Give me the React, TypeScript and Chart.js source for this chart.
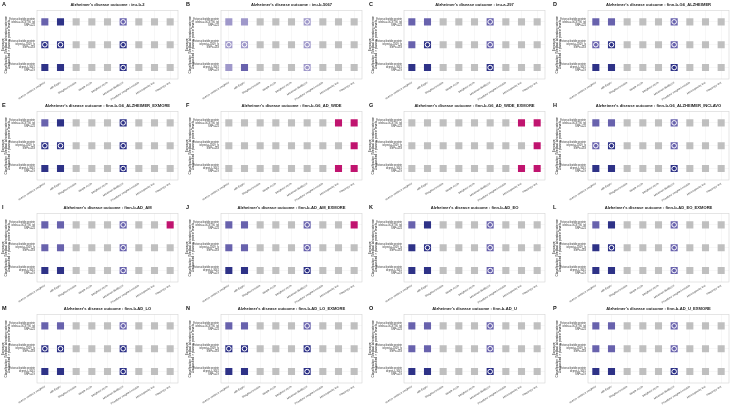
import React, { useEffect, useRef } from "react";
import { Chart, registerables } from "chart.js";
Chart.register(...registerables);

const methods = [
  "Inverse variance weighted",
  "MR Egger",
  "Weighted median",
  "Simple mode",
  "Weighted mode",
  "Maximum likelihood",
  "Penalised weighted median",
  "Heterogeneity test",
  "Pleiotropy test",
];

const exposureKeys = ["e1", "e2", "e3"];
const exposures = [
  ["Ectonucleotide protein", "id:ebi-a-GCST90_tpl", "SNPs=24"],
  ["Ectonucleotide protein", "id:prot-a-1009_lv", "SNPs=183"],
  ["Ectonucleotide protein", "id:prot-c-3041", "SNPs=19"],
];

const yTitle = [
  "Exposure",
  "Classification | Medical laboratory science",
  "Unclassified > plasma protein levels",
];

const letters = ["A", "B", "C", "D", "E", "F", "G", "H", "I", "J", "K", "L", "M", "N", "O", "P"];

const outcomes = [
  "ieu-b-2",
  "ieu-b-5067",
  "ieu-a-297",
  "finn-b-G6_ALZHEIMER",
  "finn-b-G6_ALZHEIMER_EXMORE",
  "finn-b-G6_AD_WIDE",
  "finn-b-G6_AD_WIDE_EXMORE",
  "finn-b-G6_ALZHEIMER_INCLAVO",
  "finn-b-AD_AM",
  "finn-b-AD_AM_EXMORE",
  "finn-b-AD_EO",
  "finn-b-AD_EO_EXMORE",
  "finn-b-AD_LO",
  "finn-b-AD_LO_EXMORE",
  "finn-b-AD_U",
  "finn-b-AD_U_EXMORE",
];

// codes: g grey, l light, m medium, d dark, p magenta; uppercase = ring marker
const cells = [
  ["mdgggMggg", "DDgggDggg", "ddgggDggg"],
  ["llgggLggg", "LLgggLggg", "lmgggLggg"],
  ["mmgggMggg", "mDgggMggg", "ddgggDggg"],
  ["mmgggMggg", "MDgggMggg", "ddgggDggg"],
  ["mdgggDggg", "DDgggDggg", "ddgggDggg"],
  ["gggggggpp", "ggggggggp", "gggggggpp"],
  ["gggggggpp", "ggggggggp", "gggggggpp"],
  ["mmgggMggg", "MDgggMggg", "ddgggDggg"],
  ["mmgggMggp", "mmgggMggg", "ddgggMggg"],
  ["mmgggMggp", "mmgggMggg", "ddgggDggg"],
  ["mdgggMggg", "dDgggMggg", "ddgggMggg"],
  ["mdgggMggg", "dDgggMggg", "ddgggMggg"],
  ["mmgggMggg", "DDgggDggg", "ddgggDggg"],
  ["mmgggMggg", "DDgggDggg", "ddgggDggg"],
  ["mmgggMggg", "mmgggMggg", "ddgggDggg"],
  ["mmgggMggg", "mmgggMggg", "ddgggDggg"],
];

const palette: Record<string, string> = {
  g: "#bfbfbf",
  l: "#9f98ca",
  m: "#6862ad",
  d: "#2e3287",
  p: "#c0146f",
};

const W = 183;
const H = 101;
const lefts = [0, 184, 367, 551];
const tops = [0, 101, 203, 304];

const borderPlugin = {
  id: "plotBorder",
  afterDraw(chart: any) {
    const { ctx, chartArea } = chart;
    ctx.save();
    ctx.strokeStyle = "#d4d4d4";
    ctx.lineWidth = 0.6;
    ctx.strokeRect(chartArea.left, chartArea.top, chartArea.right - chartArea.left, chartArea.bottom - chartArea.top);
    ctx.restore();
  },
};

function Panel({ idx }: { idx: number }) {
  const ref = useRef<HTMLCanvasElement>(null);
  useEffect(() => {
    const grid = cells[idx];
    const squares: any[] = [];
    const sqColors: string[] = [];
    const rings: any[] = [];
    grid.forEach((row, i) => {
      row.split("").forEach((c, j) => {
        squares.push({ x: methods[j], y: exposureKeys[i] });
        sqColors.push(palette[c.toLowerCase()]);
        if (c !== c.toLowerCase()) rings.push({ x: methods[j], y: exposureKeys[i] });
      });
    });
    const chart = new Chart(ref.current!, {
      type: "scatter",
      data: {
        datasets: [
          {
            data: rings,
            order: 0,
            pointStyle: "circle",
            pointRadius: 2.3,
            pointBackgroundColor: "rgba(0,0,0,0)",
            pointBorderColor: "#ffffff",
            pointBorderWidth: 1,
          },
          {
            data: squares,
            order: 1,
            pointStyle: "rect",
            pointRadius: 5,
            pointBackgroundColor: sqColors,
            pointBorderWidth: 0,
            pointBorderColor: sqColors,
          },
        ],
      },
      options: {
        animation: false,
        responsive: false,
        devicePixelRatio: 1,
        layout: { padding: { left: 0, right: 5, top: 0, bottom: 0 } },
        plugins: {
          legend: { display: false },
          tooltip: { enabled: false },
          title: {
            display: true,
            fullSize: false,
            text: "Alzheimer's disease outcome : " + outcomes[idx],
            font: { family: "Liberation Sans", size: 4.1, weight: "bold" },
            color: "#222",
            padding: { top: 2.5, bottom: 3 },
          },
        },
        scales: {
          x: {
            type: "category",
            labels: methods,
            offset: true,
            grid: { color: "#eeeeee", lineWidth: 0.5, offset: false, drawTicks: false },
            border: { display: false },
            ticks: {
              autoSkip: false,
              minRotation: 32,
              maxRotation: 32,
              padding: 2,
              font: { family: "Liberation Sans", size: 2.7 },
              color: "#444",
            },
            afterFit(scale: any) {
              scale.height = 22;
            },
          },
          y: {
            type: "category",
            labels: exposureKeys,
            offset: true,
            grid: { color: "#eeeeee", lineWidth: 0.5, offset: false, drawTicks: false },
            border: { display: false },
            ticks: {
              padding: 2,
              callback: (_v: any, i: number) => exposures[i],
              font: { family: "Liberation Sans", size: 2.6, lineHeight: 1.15 },
              color: "#333",
            },
            title: {
              display: true,
              text: yTitle,
              font: { family: "Liberation Sans", size: 3.1, lineHeight: 1.1 },
              color: "#222",
              padding: { top: 1, bottom: 1 },
            },
            afterFit(scale: any) {
              scale.width = 37;
            },
          },
        },
      } as any,
      plugins: [borderPlugin],
    });
    return () => chart.destroy();
  }, [idx]);
  const col = idx % 4;
  const row = Math.floor(idx / 4);
  return (
    <div style={{ position: "absolute", left: lefts[col], top: tops[row], width: W, height: H }}>
      <canvas ref={ref} width={W} height={H} style={{ display: "block" }} />
      <div
        style={{
          position: "absolute",
          left: 2,
          top: 1,
          fontFamily: "Liberation Sans",
          fontWeight: "bold",
          fontSize: 5.5,
          lineHeight: "6px",
          color: "#111",
        }}
      >
        {letters[idx]}
      </div>
    </div>
  );
}

export default function App() {
  return (
    <div style={{ position: "fixed", left: 0, top: 0, width: 735, height: 406, background: "#fff", overflow: "hidden" }}>
      {letters.map((_, i) => (
        <Panel key={i} idx={i} />
      ))}
    </div>
  );
}
